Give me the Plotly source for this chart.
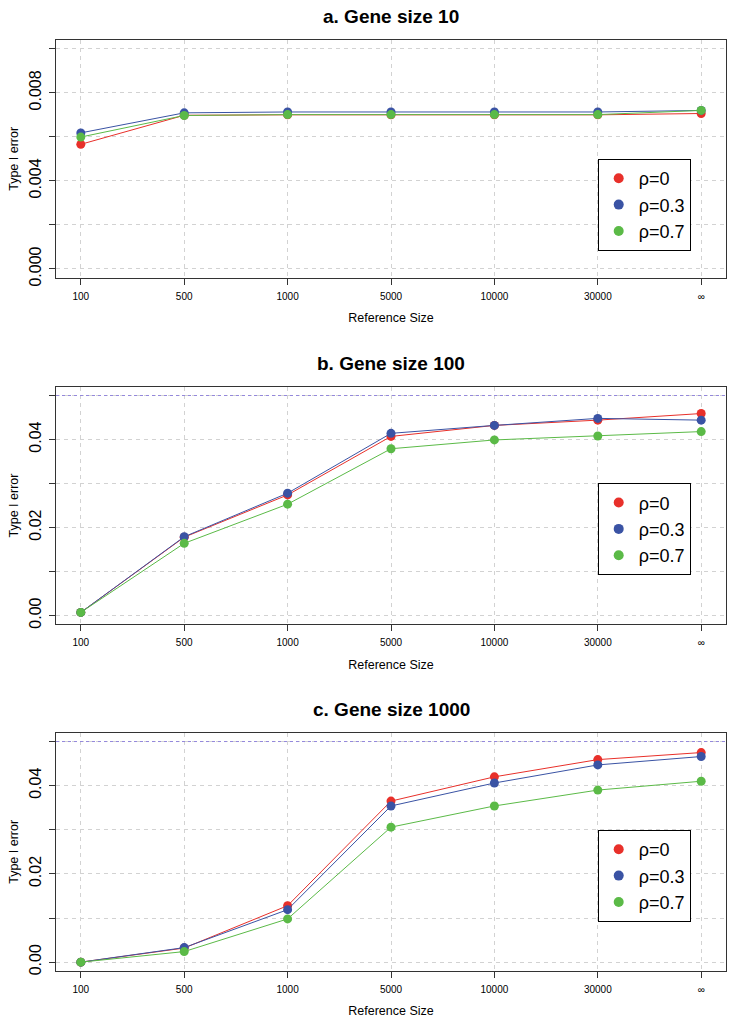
import plotly.graph_objects as go

# ---- data ----
ref_sizes = ["100", "500", "1000", "5000", "10000", "30000", "∞"]
series_names = ["ρ=0", "ρ=0.3", "ρ=0.7"]
colors = ["#E8302A", "#3A53A4", "#5BBA47"]

# panel a: gene size 10
a_rho0 = [0.00566, 0.00698, 0.00700, 0.00700, 0.00700, 0.00700, 0.00706]
a_rho3 = [0.00618, 0.00709, 0.00713, 0.00713, 0.00713, 0.00713, 0.00720]
a_rho7 = [0.00599, 0.00697, 0.00701, 0.00701, 0.00701, 0.00701, 0.00720]
# panel b: gene size 100
b_rho0 = [0.0007, 0.0178, 0.0274, 0.0407, 0.0432, 0.0444, 0.0459]
b_rho3 = [0.0007, 0.0179, 0.0278, 0.0414, 0.0432, 0.0448, 0.0444]
b_rho7 = [0.0007, 0.0164, 0.0253, 0.0379, 0.0399, 0.0408, 0.0418]
# panel c: gene size 1000
c_rho0 = [0.0000, 0.0032, 0.0128, 0.0365, 0.0420, 0.0459, 0.0475]
c_rho3 = [0.0000, 0.0033, 0.0119, 0.0354, 0.0406, 0.0447, 0.0466]
c_rho7 = [0.0000, 0.0024, 0.0098, 0.0306, 0.0354, 0.0390, 0.0410]

titles = ["a. Gene size 10", "b. Gene size 100", "c. Gene size 1000"]
nominal_level = 0.05

a_ticks = [0.000, 0.002, 0.004, 0.006, 0.008, 0.010]
a_ticktext = ["0.000", "", "0.004", "", "0.008", ""]
bc_ticks = [0.00, 0.01, 0.02, 0.03, 0.04, 0.05]
bc_ticktext = ["0.00", "", "0.02", "", "0.04", ""]

panels = [
    dict(data=[a_rho0, a_rho3, a_rho7], yrange=[-0.0004, 0.0104], tv=a_ticks, tt=a_ticktext,
         ypx=(40.0, 277.7), legtop=159.0, hline=False),
    dict(data=[b_rho0, b_rho3, b_rho7], yrange=[-0.002, 0.052], tv=bc_ticks, tt=bc_ticktext,
         ypx=(386.7, 624.3), legtop=483.3, hline=True),
    dict(data=[c_rho0, c_rho3, c_rho7], yrange=[-0.002, 0.052], tv=bc_ticks, tt=bc_ticktext,
         ypx=(732.7, 971.0), legtop=830.0, hline=True),
]

W, H = 736, 1026
X0, X1 = 56.0, 726.0
FONT = "Liberation Sans, Arial, Helvetica, sans-serif"

fig = go.Figure()
layout = dict(
    width=W, height=H,
    margin=dict(l=0, r=0, t=0, b=0),
    paper_bgcolor="white", plot_bgcolor="white",
    font=dict(family=FONT, color="black"),
    showlegend=True,
    annotations=[], shapes=[],
)

for i, p in enumerate(panels):
    n = "" if i == 0 else str(i + 1)
    xa, ya = "x" + n, "y" + n
    leg = "legend" + n
    for k in range(3):
        fig.add_trace(go.Scatter(
            x=ref_sizes, y=p["data"][k], mode="lines+markers",
            line=dict(color=colors[k], width=1),
            marker=dict(color=colors[k], size=9, line=dict(width=0)),
            xaxis=xa, yaxis=ya, showlegend=False, name=series_names[k],
        ))
    for k in range(3):
        fig.add_trace(go.Scatter(
            x=[None], y=[None], mode="markers",
            marker=dict(color=colors[k], size=10),
            xaxis=xa, yaxis=ya, name=series_names[k], legend=leg, showlegend=True,
        ))
    top, bot = p["ypx"]
    dom = [1 - bot / H, 1 - top / H]
    grid = dict(showgrid=True, gridcolor="#d2d2d2", gridwidth=1, griddash="4px,4px")
    layout["xaxis" + n] = dict(
        domain=[X0 / W, X1 / W], anchor=ya, type="category",
        range=[-0.24, 6.24], showline=True, linecolor="#333", linewidth=1, mirror=True,
        ticks="outside", ticklen=6, tickcolor="#333", tickfont=dict(size=10),
        ticklabelstandoff=3, zeroline=False, automargin=False,
        title=dict(text="Reference Size", font=dict(size=12.5), standoff=12),
        **grid,
    )
    layout["yaxis" + n] = dict(
        domain=dom, anchor=xa, range=p["yrange"], tickmode="array",
        tickvals=p["tv"], ticktext=p["tt"], tickangle=-90,
        showline=True, linecolor="#333", linewidth=1, mirror=True,
        ticks="outside", ticklen=6, tickcolor="#333", tickfont=dict(size=16),
        ticklabelstandoff=2, zeroline=False, automargin=False,
        title=dict(text="Type I error", font=dict(size=12.5), standoff=5),
        **grid,
    )
    layout[leg] = dict(
        x=597.7 / W, y=1 - p["legtop"] / H, xanchor="left", yanchor="top",
        bgcolor="white", bordercolor="black", borderwidth=1,
        font=dict(size=18, family=FONT), itemwidth=30, tracegroupgap=0,
    )
    layout["annotations"].append(dict(
        text="<b>" + titles[i] + "</b>", xref="paper", yref="paper",
        x=(X0 + X1) / 2 / W, y=1 - (top - 23.7) / H, xanchor="center", yanchor="middle",
        showarrow=False, font=dict(size=19, family=FONT),
    ))
    if p["hline"]:
        layout["shapes"].append(dict(
            type="line", xref=xa + " domain", yref=ya, x0=0, x1=1,
            y0=nominal_level, y1=nominal_level,
            line=dict(color="#9488dc", width=1, dash="dot"),
        ))

fig.update_layout(**layout)
fig.write_html(
    "out.html",
    config={"displayModeBar": False},
    post_script="document.body.style.margin='0';document.body.style.padding='0';",
)
